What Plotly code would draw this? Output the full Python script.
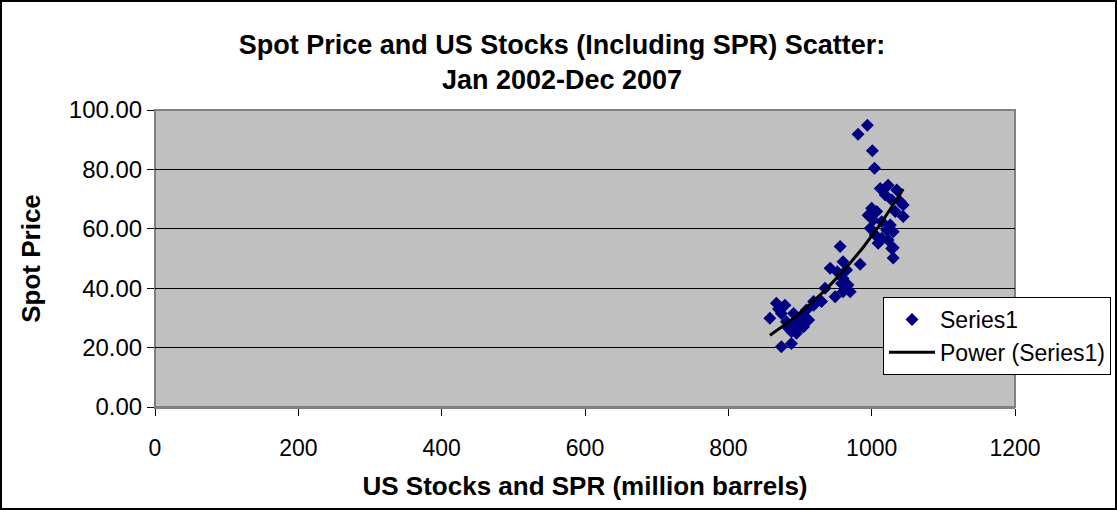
import numpy as np
import plotly.graph_objects as go

# US stocks incl. SPR (million barrels) vs spot price
stocks = [994, 981, 1001, 1004,
          1012, 1023, 1035, 1019, 1028, 1044, 1040, 1000, 1007, 995, 1033, 1044,
          1002, 1014, 1026, 998, 1021, 1030, 1005, 1014, 1009, 1023, 1030, 1030, 1028,
          956, 942, 960, 984, 965, 960, 967, 958, 970, 960, 949, 930, 919,
          867, 879, 858, 874, 891, 881, 891, 900, 912, 909, 919, 888, 898, 905,
          874, 888, 895, 884, 870, 902, 935, 952]
prices = [94.9, 91.8, 86.3, 80.4,
          73.6, 74.7, 73.1, 71.4, 69.7, 68.0, 69.1, 66.9, 65.8, 64.6, 65.8, 64.1,
          63.0, 62.4, 61.3, 60.2, 59.6, 59.0, 57.9, 56.8, 55.1, 56.2, 53.6, 50.2, 53.4,
          54.0, 46.7, 48.9, 48.1, 46.1, 43.3, 41.1, 41.6, 38.8, 38.8, 37.1, 35.5, 35.5,
          34.9, 34.3, 29.9, 31.5, 31.5, 28.7, 28.2, 29.3, 29.3, 32.7, 34.3, 25.4, 26.5, 27.0,
          20.3, 21.4, 24.8, 26.5, 33.0, 30.5, 40.0, 45.5]

x_ticks = [0, 200, 400, 600, 800, 1000, 1200]
y_ticks = [0, 20, 40, 60, 80, 100]

# Power trendline fitted to the data (as in Excel's "Power" trendline)
xa = np.array(stocks, dtype=float)
ya = np.array(prices, dtype=float)
b, loga = np.polyfit(np.log(xa), np.log(ya), 1)
xt = np.linspace(xa.min(), xa.max(), 100)
yt = np.exp(loga) * xt ** b

fig = go.Figure()
fig.add_trace(go.Scatter(
    x=stocks, y=prices, mode="markers", name="Series1",
    marker=dict(symbol="diamond", size=10, color="#000080", line=dict(width=0)),
))
fig.add_trace(go.Scatter(
    x=xt, y=yt, mode="lines", name="Power (Series1)",
    line=dict(color="black", width=3),
))

W, H = 1117, 510
L, R, T, B = 155, 1015, 110, 407
pw, ph = R - L, B - T

fig.update_layout(
    width=W, height=H,
    margin=dict(l=L, r=W - R, t=T, b=H - B, autoexpand=False),
    paper_bgcolor="white", plot_bgcolor="#C0C0C0",
    font=dict(family="Liberation Sans, Arial, sans-serif", size=23, color="black"),
    title=dict(
        text="<b>Spot Price and US Stocks (Including SPR) Scatter:<br>Jan 2002-Dec 2007</b>",
        x=(562 - L) / pw, xanchor="center", xref="paper", y=1 - 54 / H, yanchor="middle",
        font=dict(size=27),
    ),
    showlegend=True,
    legend=dict(
        x=(883 - L) / pw, xanchor="left", y=(B - 297) / ph, yanchor="top",
        bgcolor="white", bordercolor="black", borderwidth=1,
        font=dict(size=23), tracegroupgap=0, itemwidth=46,
    ),
    xaxis=dict(
        range=[0, 1200], tickvals=x_ticks, ticktext=[str(v) for v in x_ticks],
        showgrid=False, zeroline=False,
        showline=True, linecolor="#808080", linewidth=2,
        ticks="outside", ticklen=7, tickcolor="black",
        tickfont=dict(size=23), ticklabelstandoff=12,
        title=dict(text="<b>US Stocks and SPR (million barrels)</b>", font=dict(size=26), standoff=17),
    ),
    yaxis=dict(
        range=[0, 100], tickvals=y_ticks, tickformat=".2f",
        showgrid=True, gridcolor="black", gridwidth=1, zeroline=False,
        showline=True, linecolor="#808080", linewidth=1,
        ticks="outside", ticklen=7, tickcolor="black",
        tickfont=dict(size=24),
        title=dict(text="<b>Spot Price</b>", font=dict(size=26), standoff=20),
    ),
    shapes=[
        dict(type="rect", xref="paper", yref="paper",
             x0=(1 - L) / pw, x1=(W - 1 - L) / pw,
             y0=(B - (H - 1)) / ph, y1=(B - 1) / ph,
             line=dict(color="black", width=2), fillcolor="rgba(0,0,0,0)", layer="below"),
        dict(type="rect", xref="paper", yref="paper", x0=0, x1=1, y0=0, y1=1,
             line=dict(color="#808080", width=2), fillcolor="rgba(0,0,0,0)", layer="below"),
    ],
)

fig.write_html("out.html", config={"displayModeBar": False},
               post_script="document.body.style.margin='0';")
